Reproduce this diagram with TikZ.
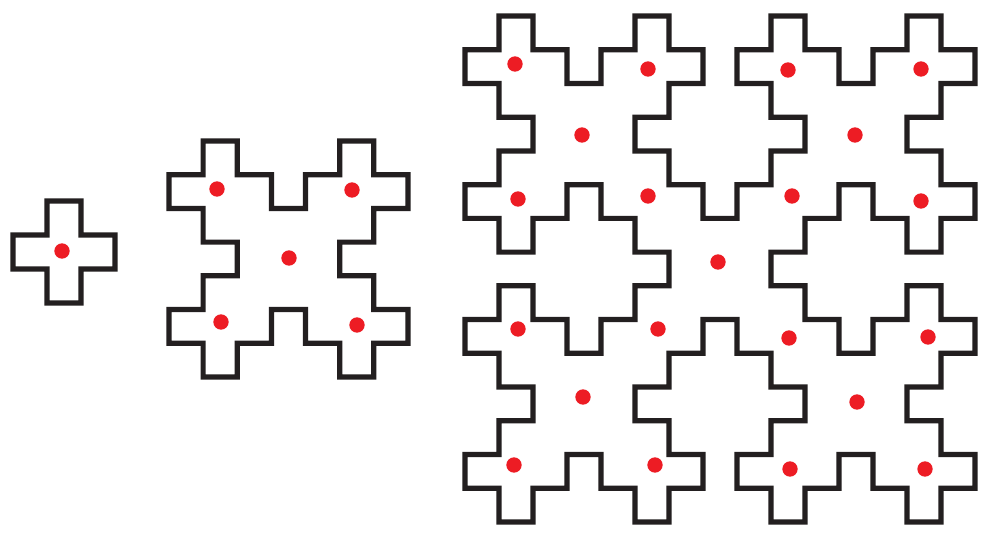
\documentclass[tikz,border=0pt]{standalone}
\usepackage{tikz}
\definecolor{inkline}{HTML}{231F20}
\definecolor{dotred}{HTML}{ED1C24}
\tikzset{
  outline/.style={fill=inkline},
  reddot/.style={circle, fill=dotred, draw=none, inner sep=0pt, minimum size=11.5pt}
}
\ExplSyntaxOn
\tl_new:N \g_rk_path_tl
\int_new:N \l_rk_row_int
\int_new:N \l_rk_col_int
\cs_new_protected:Npn \rk_build:nnnnnnn #1#2#3#4#5#6#7
 {
  \tl_gclear:N \g_rk_path_tl
  \int_zero:N \l_rk_row_int
  \clist_map_inline:nn {#7}
   {
    \int_zero:N \l_rk_col_int
    \tl_map_inline:nn {##1}
     {
      \str_if_eq:nnT {####1} {#6}
       {
        \tl_gput_right:Ne \g_rk_path_tl
         {
          \c_space_tl (
            \fp_eval:n { #1 + \int_use:N \l_rk_col_int * (#3) - (#5) } ,
            \fp_eval:n { #2 + \int_use:N \l_rk_row_int * (#4) - (#5) } )
          \c_space_tl rectangle \c_space_tl
          ( \fp_eval:n { #1 + (\int_use:N \l_rk_col_int + 1) * (#3) + (#5) } ,
            \fp_eval:n { #2 + (\int_use:N \l_rk_row_int + 1) * (#4) + (#5) } )
          \c_space_tl
         }
       }
      \int_incr:N \l_rk_col_int
     }
    \int_incr:N \l_rk_row_int
   }
 }
\NewDocumentCommand \outlineshape { m m m m m m }
 {
  \begin{scope}
  \rk_build:nnnnnnn {#1}{#2}{#3}{#4}{#5}{1}{#6}
  \use:e { \exp_not:N \clip \c_space_tl \exp_not:V \g_rk_path_tl ; }
  \rk_build:nnnnnnn {#1}{#2}{#3}{#4}{#5}{0}{#6}
  \use:e { \exp_not:N \fill [outline] \c_space_tl \exp_not:V \g_rk_path_tl ; }
  \end{scope}
 }
\ExplSyntaxOff
\begin{document}
\begin{tikzpicture}[x=0.75pt,y=-0.75pt]
\useasboundingbox (0,0) rectangle (987,535);
\fill[white] (0,0) rectangle (987,535);
% stage 1: single cross
\outlineshape{-21}{167}{34}{34}{2.6}{
00000,
00100,
01110,
00100,
00000}
% stage 2: five crosses
\outlineshape{134.86}{107.29}{34.14}{33.71}{2.6}{
000000000,
001000100,
011101110,
001111100,
000111000,
001111100,
011101110,
001000100,
000000000}
% stage 3: five copies of stage 2
\outlineshape{431}{-17.73}{34}{33.73}{2.6}{
00000000000000000,
00100010001000100,
01110111011101110,
00111110001111100,
00011100000111000,
00111110001111100,
01110111011101110,
00100011111000100,
00000001110000000,
00100011111000100,
01110111011101110,
00111110001111100,
00011100000111000,
00111110001111100,
01110111011101110,
00100010001000100,
00000000000000000}
% red dots
\node[reddot] (a1) at (62,251) {};
\node[reddot] (b1) at (217,189) {};
\node[reddot] (b2) at (352,190) {};
\node[reddot] (b3) at (289,258) {};
\node[reddot] (b4) at (221,322) {};
\node[reddot] (b5) at (357,325) {};
\node[reddot] (c1) at (515,64) {};
\node[reddot] (c2) at (648,69) {};
\node[reddot] (c3) at (582,135) {};
\node[reddot] (c4) at (518,199) {};
\node[reddot] (c5) at (648,196) {};
\node[reddot] (c6) at (788,70) {};
\node[reddot] (c7) at (921,69) {};
\node[reddot] (c8) at (855,135) {};
\node[reddot] (c9) at (792,196) {};
\node[reddot] (c10) at (921,201) {};
\node[reddot] (c11) at (718,262) {};
\node[reddot] (c12) at (518,329) {};
\node[reddot] (c13) at (658,329) {};
\node[reddot] (c14) at (583,397) {};
\node[reddot] (c15) at (514,465) {};
\node[reddot] (c16) at (655,465) {};
\node[reddot] (c17) at (789,338) {};
\node[reddot] (c18) at (928,337) {};
\node[reddot] (c19) at (857,402) {};
\node[reddot] (c20) at (790,469) {};
\node[reddot] (c21) at (925,469) {};
\end{tikzpicture}
\end{document}
